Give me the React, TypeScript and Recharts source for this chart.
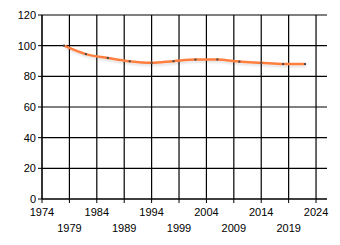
import { LineChart, Line, XAxis, YAxis, CartesianGrid } from 'recharts';

const years = [1978, 1982, 1986, 1990, 1994, 1998, 2002, 2006, 2010, 2014, 2018, 2022];
const values = [100, 94.5, 92, 89.8, 88.8, 89.9, 90.9, 91, 89.6, 88.8, 88, 88];
const xTicks = [1974, 1979, 1984, 1989, 1994, 1999, 2004, 2009, 2014, 2019, 2024];
const yTicks = [0, 20, 40, 60, 80, 100, 120];
const xDomain = [1974, 2026];

const data = years.map((year, i) => ({ year, value: values[i] }));

const FONT = '"Liberation Sans", Arial, sans-serif';

const XTick = ({ x, y, payload, index }: any) => (
  <text
    x={x}
    y={y + (index % 2 === 0 ? 11 : 27)}
    textAnchor="middle"
    fontSize={11}
    fontFamily={FONT}
    fill="#000"
  >
    {payload.value}
  </text>
);

const Dot = ({ cx, cy }: any) => (
  <rect x={cx - 1} y={cy - 1} width={2} height={2} fill="#444" />
);

// only draw vertical grid lines on the year ticks (no right border)
const verticalLines = ({ xAxis, offset }: any) => {
  const scale = xAxis?.scale;
  if (typeof scale === 'function') return xTicks.map((t) => scale(t));
  const [lo, hi] = xDomain;
  return xTicks.map((t) => offset.left + ((t - lo) / (hi - lo)) * offset.width);
};

export default function App() {
  return (
    <div style={{ margin: -8, width: 340, height: 245, background: '#fff' }}>
      <LineChart width={340} height={245} data={data} margin={{ top: 15, right: 13, left: 0, bottom: 0 }}>
        <defs>
          <filter id="lineShadow" x="-5%" y="-50%" width="110%" height="200%">
            <feDropShadow dx="1" dy="2" stdDeviation="1" floodColor="#000" floodOpacity="0.12" />
          </filter>
        </defs>
        <CartesianGrid stroke="#000" strokeWidth={1.2} verticalCoordinatesGenerator={verticalLines} />
        <XAxis
          dataKey="year"
          type="number"
          domain={xDomain}
          ticks={xTicks}
          interval={0}
          height={46}
          stroke="#000"
          tickSize={4}
          tick={<XTick />}
        />
        <YAxis
          type="number"
          domain={[0, 120]}
          ticks={yTicks}
          interval={0}
          width={42}
          stroke="#000"
          tickSize={4}
          tick={{ fontSize: 11, fontFamily: FONT, fill: '#000' }}
        />
        <Line
          type="monotone"
          dataKey="value"
          stroke="#ff7f3f"
          strokeWidth={2.5}
          dot={<Dot />}
          activeDot={false}
          filter="url(#lineShadow)"
          isAnimationActive={false}
        />
      </LineChart>
    </div>
  );
}
